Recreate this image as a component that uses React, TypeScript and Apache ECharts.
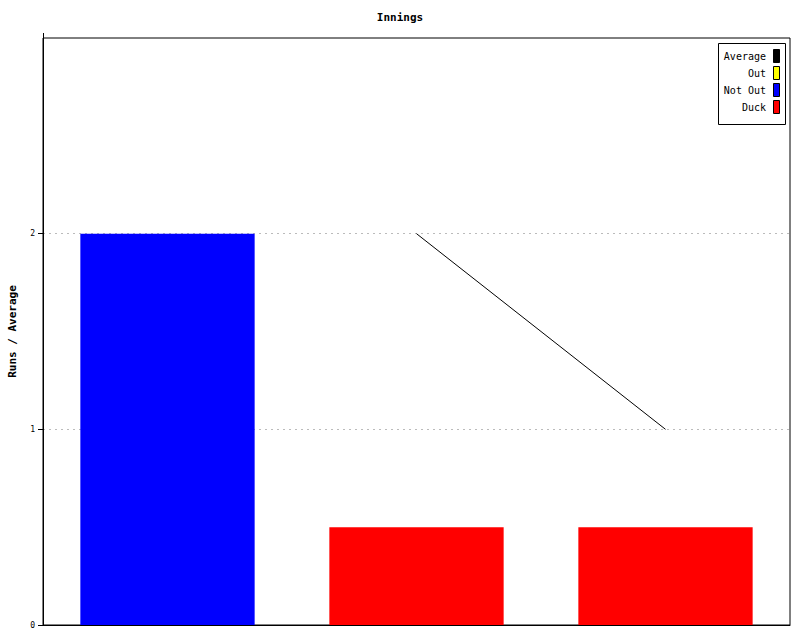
import React, { useEffect, useRef } from "react";
import * as echarts from "echarts";

const categories = ["1", "2", "3"];
const outValues: (number | null)[] = [null, null, null];
const notOutValues: (number | null)[] = [2, null, null];
const duckValues: (number | null)[] = [null, 0.5, 0.5];
const averageValues: (number | null)[] = [null, 2, 1];
const yTicks = [0, 1, 2, 3];
const legendNames = ["Average", "Out", "Not Out", "Duck"];
const legendColors = ["#000000", "#ffff00", "#0000ff", "#ff0000"];

const FONT = "'DejaVu Sans Mono', monospace";

export default function App() {
  const ref = useRef<HTMLDivElement>(null);
  useEffect(() => {
    if (!ref.current) return;
    const chart = echarts.init(ref.current, null, { renderer: "svg" });
    const legendGraphics: any[] = [
      {
        type: "rect",
        shape: { x: 718.5, y: 43.5, width: 67, height: 81 },
        style: { fill: "#fff", stroke: "#000", lineWidth: 1 },
        z: 100,
      },
      {
        type: "line",
        shape: { x1: 43.5, y1: 33, x2: 43.5, y2: 38 },
        style: { stroke: "#000", lineWidth: 1 },
        z: 100,
      },
    ];
    legendNames.forEach((n, i) => {
      const cy = 56 + i * 17;
      legendGraphics.push({
        type: "text",
        x: 766,
        y: cy,
        style: {
          text: n,
          textAlign: "right",
          textVerticalAlign: "middle",
          fill: "#000",
          font: `10px ${FONT}`,
        },
        z: 101,
      });
      legendGraphics.push({
        type: "rect",
        shape: { x: 773.5, y: cy - 6.5, width: 6, height: 13 },
        style: { fill: legendColors[i], stroke: "#000", lineWidth: 1 },
        z: 101,
      });
    });
    chart.setOption({
      animation: false,
      backgroundColor: "#fff",
      title: {
        text: "Innings",
        left: "center",
        top: 7,
        textStyle: { fontFamily: FONT, fontSize: 11, fontWeight: "bold", color: "#000" },
      },
      grid: {
        left: 43,
        right: 10,
        top: 38,
        bottom: 15,
        outerBoundsMode: "none",
        containLabel: false,
        show: true,
        borderColor: "#000",
        borderWidth: 1,
        backgroundColor: "transparent",
      },
      xAxis: {
        type: "category",
        data: categories,
        axisLine: { show: true, lineStyle: { color: "#000", width: 1 } },
        axisTick: { show: false },
        axisLabel: { show: false },
        splitLine: { show: false },
      },
      yAxis: {
        type: "value",
        min: yTicks[0],
        max: yTicks[yTicks.length - 1],
        interval: 1,
        name: "Runs / Average",
        nameLocation: "middle",
        nameGap: 25,
        nameTextStyle: { fontFamily: FONT, fontSize: 11, fontWeight: "bold", color: "#000" },
        axisLine: { show: true, lineStyle: { color: "#000", width: 1 } },
        axisTick: { show: true, length: 5, lineStyle: { color: "#000" } },
        axisLabel: {
          showMaxLabel: false,
          fontFamily: FONT,
          fontSize: 8,
          color: "#000",
          margin: 8,
        },
        splitLine: {
          show: true,
          showMaxLine: false,
          showMinLine: false,
          lineStyle: { color: "#bbbbbb", type: [2, 4], width: 1 },
        },
      },
      series: [
        {
          name: "Out",
          type: "bar",
          stack: "inn",
          barWidth: "70%",
          data: outValues,
          itemStyle: { color: legendColors[1] },
        },
        {
          name: "Not Out",
          type: "bar",
          stack: "inn",
          barWidth: "70%",
          data: notOutValues,
          itemStyle: { color: legendColors[2] },
        },
        {
          name: "Duck",
          type: "bar",
          stack: "inn",
          barWidth: "70%",
          data: duckValues,
          itemStyle: { color: legendColors[3] },
        },
        {
          name: "Average",
          type: "line",
          data: averageValues,
          showSymbol: false,
          symbol: "none",
          lineStyle: { color: legendColors[0], width: 1 },
          z: 10,
        },
      ],
      graphic: legendGraphics,
    });
    return () => chart.dispose();
  }, []);
  return <div ref={ref} style={{ width: 800, height: 640, position: "absolute", left: 0, top: 0 }} />;
}
